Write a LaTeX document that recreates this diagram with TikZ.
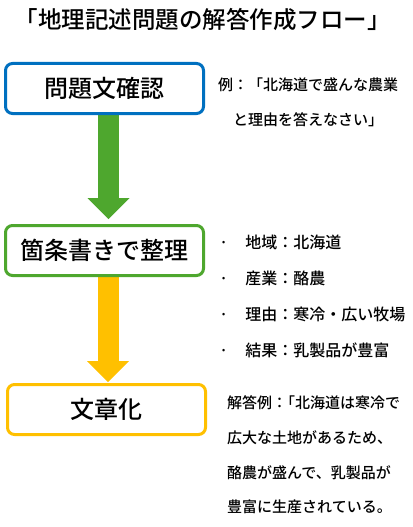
\documentclass[tikz,border=0pt]{standalone}
\usepackage{fontspec}
\setmainfont{Noto Sans CJK JP}[UprightFont={* Medium}]
\usetikzlibrary{arrows.meta,backgrounds}
\definecolor{stepblue}{HTML}{0070C0}
\definecolor{stepgreen}{HTML}{4EA72E}
\definecolor{stepyellow}{HTML}{FFC000}

\begin{document}
\begin{tikzpicture}[x=1pt,y=-1pt,
	flowbox/.style={draw, line width=3pt, rounded corners=7pt, fill=white, minimum width=198pt, minimum height=50pt, inner sep=0pt, font=\fontsize{24}{24}\selectfont},
	note/.style={inner sep=0pt, anchor=west, font=\fontsize{15}{35}\selectfont},
	flowarrow/.style={line width=21pt, -{Triangle[width=42pt,length=21pt,line width=0pt]}}]
	\useasboundingbox (0,0) rectangle (412,527);
	\node[font=\fontsize{23.5}{23.5}\selectfont] (title) at (202.5,20) {「地理記述問題の解答作成フロー」};
	\node[flowbox, draw=stepblue] (check) at (104.5,88.5) {問題文確認};
	\node[flowbox, draw=stepgreen] (sort) at (104.5,250.5) {箇条書きで整理};
	\node[flowbox, draw=stepyellow] (write) at (106.5,409.5) {文章化};
	\begin{scope}[on background layer]
		\draw[flowarrow, stepgreen] ([xshift=4pt]check.south) -- ([xshift=4pt,yshift=5pt]sort.north);
		\draw[flowarrow, stepyellow] ([xshift=3.5pt]sort.south) -- ([xshift=1.5pt,yshift=1pt]write.north);
	\end{scope}
	\node[note, align=center] (question) at (218,102.5) {例：「北海道で盛んな農業\\と理由を答えなさい」};
	\foreach \fact [count=\i] in {地域：北海道, 産業：酪農, 理由：寒冷・広い牧場, 結果：乳製品が豊富}
		\node[note, font=\fontsize{16}{16}\selectfont] (point\i) at (219,206+36*\i) {·\hspace{17pt}\fact};
	\node[note, align=left, font=\fontsize{15}{34.7}\selectfont] (answer) at (227,455) {解答例：\hspace{-7pt}「北海道は寒冷で\\広大な土地があるため、\\酪農が盛んで、乳製品が\\豊富に生産されている。};
\end{tikzpicture}
\end{document}
